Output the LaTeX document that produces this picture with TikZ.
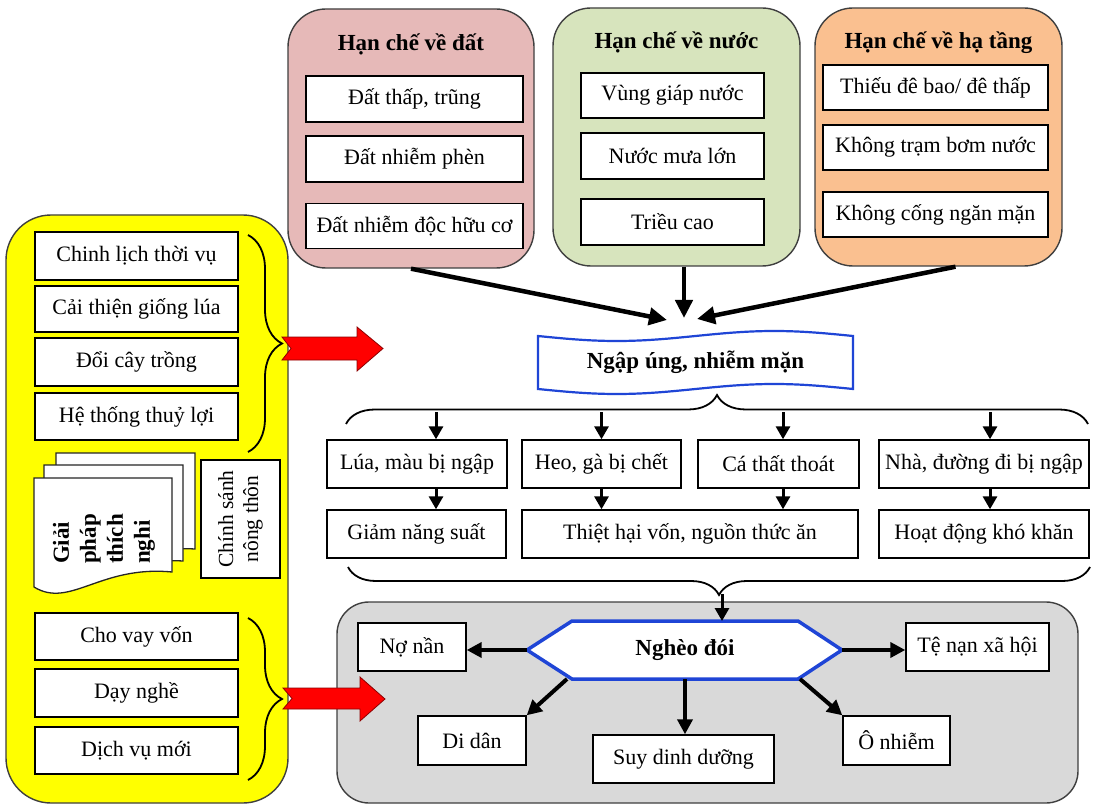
\documentclass[tikz,border=0pt]{standalone}
\usepackage{fontspec}
\setmainfont{Liberation Serif}
\usetikzlibrary{arrows.meta,decorations.pathreplacing,calc}

\definecolor{soilpink}{HTML}{E6B9B8}
\definecolor{watergreen}{HTML}{D7E4BD}
\definecolor{infraorange}{HTML}{FAC090}
\definecolor{solyellow}{HTML}{FFFF00}
\definecolor{poorgray}{HTML}{D9D9D9}
\definecolor{panelline}{HTML}{3F3F3F}
\definecolor{shapeblue}{HTML}{1F45D6}
\definecolor{arrowred}{HTML}{FF0000}

\newcommand\boxtextfont{\fontsize{22}{25}\selectfont}
\newcommand\headfont{\fontsize{23}{26}\selectfont\bfseries}
\newcommand\docfont{\fontsize{23}{27}\selectfont\bfseries}

\begin{document}
\begin{tikzpicture}[x=1pt,y=-1pt,
  panel/.style={draw=panelline, line width=1.4pt, rounded corners=38pt},
  box/.style={draw=black, line width=1.4pt, fill=white, inner sep=1pt, font=\boxtextfont},
  ttl/.style={font=\headfont},
  bigarr/.style={line width=4.5pt, -{Triangle[length=18pt,width=17pt]}},
  midarr/.style={line width=4pt, -{Triangle[length=15pt,width=15pt]}},
  smallarr/.style={line width=3pt, -{Triangle[length=13pt,width=14pt]}},
  brc/.style={decorate, line width=1.8pt, decoration={brace, amplitude=#1}},
  redarrow/.style={fill=arrowred, draw=arrowred!55!black, line width=0.8pt},
  page/.style={fill=white, draw=black!85, line width=1.3pt},
  blueshape/.style={draw=shapeblue, fill=white},
]
\useasboundingbox (0,0) rectangle (1093,805);
\fill[white] (0,0) rectangle (1093,805);

% ---------- three constraint panels ----------
\node[panel, fill=soilpink, minimum width=246pt, minimum height=259pt] (soil) at (411,138.5) {};
\node[panel, fill=watergreen, minimum width=247pt, minimum height=258pt] (water) at (676.5,137) {};
\node[panel, fill=infraorange, minimum width=247pt, minimum height=258pt] (infra) at (938.5,137) {};

\node[ttl] (soilT) at (411,44) {Hạn chế về đất};
\node[ttl] (waterT) at (676.5,42) {Hạn chế về nước};
\node[ttl] (infraT) at (938.5,43) {Hạn chế về hạ tầng};

\node[box, minimum width=217pt, minimum height=46pt] (s1) at (414.5,99) {Đất thấp, trũng};
\node[box, minimum width=217pt, minimum height=46pt] (s2) at (414.5,159) {Đất nhiễm phèn};
\node[box, minimum width=217pt, minimum height=45pt] (s3) at (414.5,226) {Đất nhiễm độc hữu cơ};

\node[box, minimum width=183pt, minimum height=45pt] (w1) at (672.5,95.5) {Vùng giáp nước};
\node[box, minimum width=183pt, minimum height=46pt] (w2) at (672.5,156) {Nước mưa lớn};
\node[box, minimum width=183pt, minimum height=46pt] (w3) at (672.5,222) {Triều cao};

\node[box, minimum width=225pt, minimum height=45pt] (i1) at (935.5,87.5) {Thiếu đê bao/ đê thấp};
\node[box, minimum width=225pt, minimum height=45pt] (i2) at (935.5,147.5) {Không trạm bơm nước};
\node[box, minimum width=225pt, minimum height=45pt] (i3) at (935.5,214.5) {Không cống ngăn mặn};

% ---------- central problem ----------
\draw[blueshape, line width=2.2pt]
  (538,336) sin (616.75,341) cos (695.5,336) sin (774.25,331) cos (853,336)
  -- (853,389) sin (774.25,384) cos (695.5,389) sin (616.75,394) cos (538,389) -- cycle;
\node[font=\headfont] (flood) at (695.5,362) {Ngập úng, nhiễm mặn};

\coordinate (hitA) at (667,320);
\coordinate (hitB) at (684,318);
\coordinate (hitC) at (697,319);
\draw[bigarr] (soil.south) -- (hitA);
\draw[bigarr] (water.south -| hitB) -- (hitB);
\draw[bigarr] ([xshift=17pt]infra.south) -- (hitC);

% brace opening to the consequences
\draw[brc=29] (346,424) -- (1088,424);

% ---------- consequences ----------
\node[box, minimum width=180pt, minimum height=48pt] (rice) at (417,464) {Lúa, màu bị ngập};
\node[box, minimum width=159pt, minimum height=48pt] (pigs) at (601.5,464) {Heo, gà bị chết};
\node[box, minimum width=161pt, minimum height=48pt] (fish) at (778.5,464) {Cá thất thoát};
\node[box, minimum width=210pt, minimum height=48pt] (house) at (984,464) {Nhà, đường đi bị ngập};

\node[box, minimum width=179pt, minimum height=48pt] (yield) at (416.5,534) {Giảm năng suất};
\node[box, minimum width=336pt, minimum height=48pt] (loss) at (690,534) {Thiệt hại vốn, nguồn thức ăn};
\node[box, minimum width=210pt, minimum height=48pt] (hard) at (984,534) {Hoạt động khó khăn};

\coordinate (fa) at (436,412);
\coordinate (fb) at (601.5,412);
\coordinate (fc) at (783,412);
\coordinate (fd) at (990,412);
\draw[smallarr] (fa) -- (fa |- rice.north);
\draw[smallarr] (fb) -- (fb |- pigs.north);
\draw[smallarr] (fc) -- (fc |- fish.north);
\draw[smallarr] (fd) -- (fd |- house.north);
\draw[smallarr] (rice.south -| fa) -- (yield.north -| fa);
\draw[smallarr] (pigs.south -| fb) -- (loss.north -| fb);
\draw[smallarr] (fish.south -| fc) -- (loss.north -| fc);
\draw[smallarr] (house.south -| fd) -- (hard.north -| fd);

% brace gathering the consequences
\draw[brc=28] (1090,567) -- (348,567);

% ---------- poverty panel ----------
\node[panel, fill=poorgray, rounded corners=32pt, minimum width=741pt, minimum height=201pt] (poverty) at (707.5,702.5) {};
\draw[blueshape, line width=3.5pt] (527,650) -- (572,621) -- (798,621) -- (842,650) -- (798,679) -- (572,679) -- cycle;
\node[font=\headfont] (poor) at (685,650) {Nghèo đói};
\coordinate (hexN) at (722,621);
\coordinate (hexW) at (527,650);
\coordinate (hexE) at (842,650);
\coordinate (hexSW) at (567,679);
\coordinate (hexS) at (685,679);
\coordinate (hexSE) at (800,679);

\node[box, minimum width=108pt, minimum height=48pt] (debt) at (412,647) {Nợ nần};
\node[box, minimum width=143pt, minimum height=48pt] (vice) at (977.5,647) {Tệ nạn xã hội};
\node[box, minimum width=108pt, minimum height=49pt] (migr) at (472,740.5) {Di dân};
\node[box, minimum width=181pt, minimum height=48pt] (malnu) at (683.5,759) {Suy dinh dưỡng};
\node[box, minimum width=107pt, minimum height=49pt] (poll) at (896.5,740.5) {Ô nhiễm};

\coordinate (gtip) at (722,594);
\draw[smallarr] (gtip) -- (hexN);
\draw[midarr] (hexW) -- (hexW -| debt.east);
\draw[midarr] (hexE) -- (hexE -| vice.west);
\draw[midarr] (hexSW) -- (migr.north east);
\draw[midarr] (hexS) -- (hexS |- malnu.north);
\draw[midarr] (hexSE) -- (poll.north west);

% ---------- adaptation panel ----------
\node[panel, fill=solyellow, rounded corners=45pt, minimum width=282pt, minimum height=588pt] (adapt) at (147,509) {};

\node[box, minimum width=203pt, minimum height=48pt] (a1) at (136.5,256) {Chinh lịch thời vụ};
\node[box, minimum width=203pt, minimum height=46pt] (a2) at (136.5,309) {Cải thiện giống lúa};
\node[box, minimum width=203pt, minimum height=48pt] (a3) at (136.5,362) {Đổi cây trồng};
\node[box, minimum width=203pt, minimum height=47pt] (a4) at (136.5,416.5) {Hệ thống thuỷ lợi};

\node[box, minimum width=203pt, minimum height=47pt] (p1) at (136.5,636.5) {Cho vay vốn};
\node[box, minimum width=203pt, minimum height=48pt] (p2) at (136.5,693) {Dạy nghề};
\node[box, minimum width=203pt, minimum height=47pt] (p3) at (136.5,750.5) {Dịch vụ mới};

% stacked documents
\draw[page] (56,453) -- (195,453) -- (195,549) .. controls (123,545) and (93,585) .. (56,563) -- cycle;
\draw[page] (44,465) -- (183,465) -- (183,561) .. controls (111,557) and (81,597) .. (44,575) -- cycle;
\draw[page] (34,478) -- (172,478) -- (172,572) .. controls (100,565) and (70,609) .. (34,587) -- cycle;
\node[rotate=90, font=\docfont, align=left] (docs) at (104,539) {Giải\\pháp\\thích\\nghi};

\node[box, rotate=90, align=center, minimum width=118pt, minimum height=79pt, font=\fontsize{21.5}{25}\selectfont] (policy) at (240.5,519) {Chính sánh\\nông thôn};

% braces and red arrows
\draw[brc=34] (248,235) -- (248,452);
\draw[brc=34] (248,618) -- (248,780);
\draw[redarrow] (282,337) -- (357,337) -- (357,327) -- (383,348.5) -- (357,371) -- (357,360) -- (282,360) -- (291,348.5) -- cycle;
\draw[redarrow] (283,688) -- (360,688) -- (360,677) -- (385,699) -- (360,721) -- (360,709) -- (283,709) -- (292,698.5) -- cycle;
\end{tikzpicture}
\end{document}
